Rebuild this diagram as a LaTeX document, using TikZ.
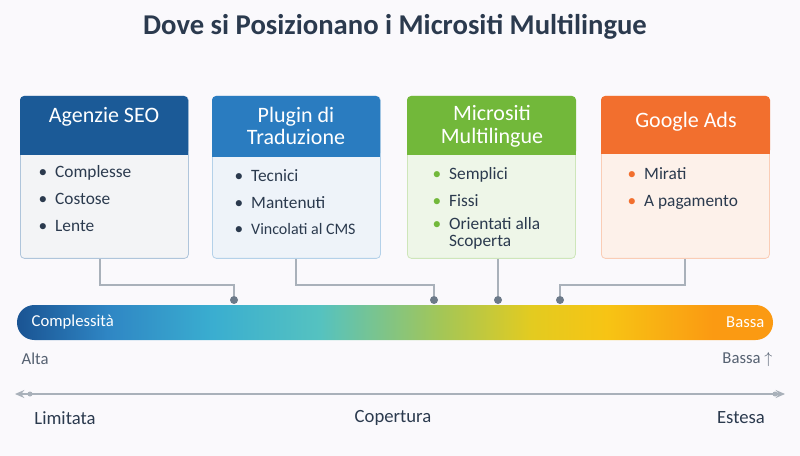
\documentclass[tikz,border=0pt]{standalone}
\usepackage{fontspec}
\setmainfont{Carlito}
\usetikzlibrary{positioning,arrows.meta}

\definecolor{bg}{HTML}{FAF9FC}
\definecolor{ink}{HTML}{2B3A4E}
\definecolor{wire}{HTML}{A9B1BA}
\definecolor{pin}{HTML}{6C7A89}
\definecolor{seoHead}{HTML}{1B5A97}
\definecolor{seoBody}{HTML}{F3F4F6}
\definecolor{plugHead}{HTML}{2A7CC0}
\definecolor{plugBody}{HTML}{EEF3F9}
\definecolor{microHead}{HTML}{72B83A}
\definecolor{microBody}{HTML}{EEF6E8}
\definecolor{adsHead}{HTML}{F26F2E}
\definecolor{adsBody}{HTML}{FDF1EA}
\definecolor{barA}{HTML}{1A5493}
\definecolor{barB}{HTML}{2F86C4}
\definecolor{barC}{HTML}{3AAED0}
\definecolor{barD}{HTML}{55C2C0}
\definecolor{barE}{HTML}{A3C657}
\definecolor{barF}{HTML}{E3CB20}
\definecolor{barG}{HTML}{F7C414}
\definecolor{barH}{HTML}{FB9A12}

\pgfdeclarehorizontalshading{scala}{100bp}{
  color(0bp)=(barA); color(25bp)=(barA); color(31bp)=(barB);
  color(38bp)=(barC); color(45bp)=(barD); color(53bp)=(barE);
  color(59bp)=(barF); color(64bp)=(barG); color(71bp)=(barH);
  color(75bp)=(barH); color(100bp)=(barH)}

\tikzset{
  card/.style={draw=#1Head!35, fill=#1Body, rounded corners=3pt,
    minimum width=168*0.75pt, minimum height=162*0.75pt, anchor=north west,
    line width=0.6pt},
  head/.style={text=white, font=\fontsize{16.5}{17}\selectfont, align=center},
  items/.style={text=ink, font=\fontsize{13}{20}\selectfont, align=left, anchor=north west},
  tag/.style={text=ink!80, font=\fontsize{12.5}{14}\selectfont},
  pinpt/.style={circle, fill=pin, inner sep=0pt, minimum size=6pt},
}

\begin{document}
\begin{tikzpicture}[x=0.75pt,y=-0.75pt]
  \useasboundingbox[fill=bg] (0,0) rectangle (800,456);
  \node[text=ink, font=\fontsize{21.5}{24}\selectfont\bfseries] (title) at (395,27) {Dove si Posizionano i Micrositi Multilingue};

  % schede
  \node[card=seo] (seo) at (20,96) {};
  \node[card=plug] (plug) at (212,96) {};
  \node[card=micro] (micro) at (407,96) {};
  \node[card=ads] (ads) at (601,96) {};
  \fill[seoHead, rounded corners=3pt] (20,96) rectangle (188,155); \fill[seoHead] (20,140) rectangle (188,155);
  \fill[plugHead, rounded corners=3pt] (212,96) rectangle (380,157); \fill[plugHead] (212,140) rectangle (380,157);
  \fill[microHead, rounded corners=3pt] (407,96) rectangle (576,155); \fill[microHead] (407,140) rectangle (576,155);
  \fill[adsHead, rounded corners=3pt] (601,96) rectangle (770,154); \fill[adsHead] (601,140) rectangle (770,154);

  \node[head] (seoT) at (104,117) {Agenzie SEO};
  \node[head] (plugT) at (296,126) {Plugin di\\Traduzione};
  \node[head] (microT) at (492,126) {Micrositi\\Multilingue};
  \node[head] (adsT) at (686,122) {Google Ads};

  \node[items] (seoL) at (34,161) {\textbullet\ \ Complesse\\\textbullet\ \ Costose\\\textbullet\ \ Lente};
  \node[items] (plugL) at (230,165) {\textbullet\ \ Tecnici\\\textbullet\ \ Mantenuti\\\textbullet\ \ {\fontsize{12}{20}\selectfont Vincolati al CMS}};
  \node[items] (microL) at (428,163) {{\color{microHead}\textbullet}\ \ Semplici\\{\color{microHead}\textbullet}\ \ Fissi\\[-3pt]{\color{microHead}\textbullet}\ \ Orientati alla\\[-7pt]\hphantom{\textbullet\ \ }Scoperta};
  \node[items] (adsL) at (623,163) {{\color{adsHead}\textbullet}\ \ Mirati\\{\color{adsHead}\textbullet}\ \ A pagamento};

  % scala
  \shade[shading=scala, rounded corners=13pt] (17,305) rectangle (773,340);
  \node[text=white, font=\fontsize{12.5}{14}\selectfont, anchor=west] (compl) at (27,322) {Complessità};
  \node[text=white, font=\fontsize{12.5}{14}\selectfont, anchor=east] (bassaW) at (769,322) {Bassa};

  \node[pinpt] (p1) at (234,300) {};
  \node[pinpt] (p2) at (434,300) {};
  \node[pinpt] (p3) at (498,300) {};
  \node[pinpt] (p4) at (560,300) {};
  \draw[wire, line width=0.8pt] (seo.south -| 100,0) |- (234,285) -- (p1);
  \draw[wire, line width=0.8pt] (plug.south -| 296,0) |- (434,285) -- (p2);
  \draw[wire, line width=0.8pt] (micro.south -| p3) -- (p3);
  \draw[wire, line width=0.8pt] (ads.south -| 685,0) |- (560,285) -- (p4);

  \node[tag, anchor=west] (alta) at (17,359) {Alta};
  \node[tag, anchor=east] (bassa) at (777,359) {Bassa $\uparrow$};

  % copertura
  \coordinate (cL) at (15,394);
  \coordinate (cR) at (785,394);
  \draw[wire, line width=1.2pt, {Stealth[length=7pt,width=6pt]}-{Stealth[length=7pt,width=6pt]}] (cL) -- (cR);
  \fill[wire] (30,394) circle (2.5) (775,394) circle (2.5);
  \node[text=ink, font=\fontsize{14}{16}\selectfont] (lim) at (65,418) {Limitata};
  \node[text=ink, font=\fontsize{14}{16}\selectfont] (cop) at (393,418) {Copertura};
  \node[text=ink, font=\fontsize{14}{16}\selectfont] (est) at (741,418) {Estesa};
\end{tikzpicture}
\end{document}
